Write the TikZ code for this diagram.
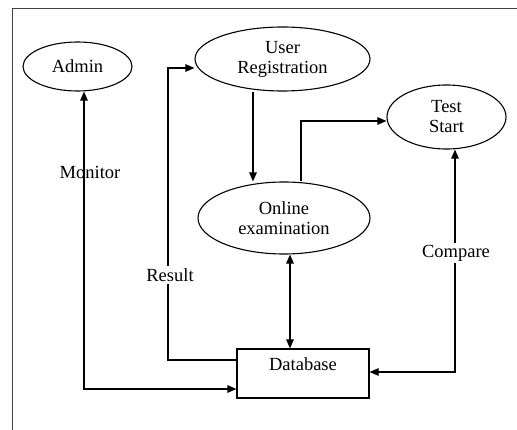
\documentclass[tikz,border=0pt]{standalone}
\usepackage{fontspec}
\setmainfont{Liberation Serif}
\usetikzlibrary{arrows.meta,shapes.geometric}
\begin{document}
\begin{tikzpicture}[x=1pt,y=-1pt,
  every node/.style={font=\fontsize{18.5}{20}\selectfont},
  proc/.style={draw,line width=1.1pt,ellipse,inner sep=0pt,align=center},
  conn/.style={line width=1.2pt,-{Triangle[length=9pt,width=7.5pt]}},
  conn2/.style={line width=1.2pt,{Triangle[length=9pt,width=7.5pt]}-{Triangle[length=9pt,width=7.5pt]}},
  lab/.style={fill=white,inner sep=2pt}]
\useasboundingbox (0,0) rectangle (517,430);
\fill[white] (0,0) rectangle (517,430);
% frame
\coordinate (f1) at (12,430);
\coordinate (f2) at (12,9);
\coordinate (f3) at (517,9);
\draw[line width=1pt,black!75] (f1) -- (f2) -- (f3);
% nodes
\node[proc,minimum width=109pt,minimum height=49pt] (admin) at (77.5,66.5) {Admin};
\node[proc,minimum width=175pt,minimum height=64pt] (user) at (282.5,59) {User\\Registration};
\node[proc,minimum width=119pt,minimum height=64pt] (test) at (446.5,117) {Test\\Start};
\node[proc,minimum width=172pt,minimum height=72pt] (online) at (284,218) {Online\\examination};
\node[draw,line width=1.2pt,rectangle,minimum width=132pt,minimum height=49pt,inner sep=0pt,
      text height=13pt,text depth=19pt] (db) at (303,373.5) {Database};
% Monitor
\coordinate (m1) at (84,389);
\draw[conn2] (admin.south -| m1) -- (m1) -- (db.west |- m1);
\node (monitor) at (90,172) {Monitor};
% Result
\coordinate (r1) at (168,360);
\coordinate (r2) at (168,68);
\draw[conn] (db.west |- r1) -- (r1) -- (r2) -- (user.west |- r2);
\node[lab] (result) at (170,275) {Result};
% User -> Online
\coordinate (u1) at (253,100);
\draw[conn] (user.south -| u1) -- (online.north -| u1);
% Online -> Test
\coordinate (t1) at (301,121);
\draw[conn] (online.north -| t1) -- (t1) -- (test.west |- t1);
% Online <-> Database
\coordinate (d1) at (290,300);
\draw[conn2] (online.south -| d1) -- (db.north -| d1);
% Compare
\coordinate (c1) at (455,372);
\draw[conn2] (test.south -| c1) -- (c1) -- (db.east |- c1);
\node[lab] (compare) at (456,253) {Compare};
\end{tikzpicture}
\end{document}
